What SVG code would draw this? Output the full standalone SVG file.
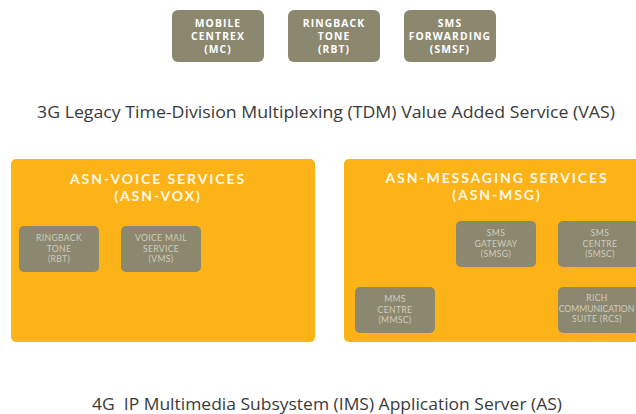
<svg xmlns="http://www.w3.org/2000/svg" width="636" height="414" viewBox="0 0 636 414">
<style>
.top{fill:#8C8870}
.tt{font-family:"Open Sans","DejaVu Sans",sans-serif;font-weight:bold;font-size:10.3px;fill:#FFFFFF;text-anchor:middle;letter-spacing:1.1px}
.grp{fill:#FBB317}
.gt{font-family:Lato,"Open Sans",sans-serif;font-weight:bold;font-size:14px;fill:#FFF8E8;text-anchor:middle;letter-spacing:1.9px}
.in{fill:#8C8870}
.it{font-family:Lato,"Open Sans",sans-serif;font-size:8.6px;fill:#CFCBBB;text-anchor:middle;letter-spacing:0.35px}
.cap{font-family:"Open Sans","Noto Sans",sans-serif;font-size:16.5px;fill:#3A3A3A;text-anchor:middle}
</style>
<rect width="636" height="414" fill="#FFFFFF"/>
<g id="mc"><rect class="top" x="172" y="10" width="92" height="52" rx="6"/>
<text class="tt"><tspan x="218" y="27">MOBILE</tspan><tspan x="218" y="40">CENTREX</tspan><tspan x="218" y="53">(MC)</tspan></text></g>
<g id="rbt-top"><rect class="top" x="288" y="10" width="92" height="52" rx="6"/>
<text class="tt"><tspan x="334" y="27">RINGBACK</tspan><tspan x="334" y="40">TONE</tspan><tspan x="334" y="53">(RBT)</tspan></text></g>
<g id="smsf"><rect class="top" x="404" y="10" width="92" height="52" rx="6"/>
<text class="tt"><tspan x="450" y="27">SMS</tspan><tspan x="450" y="40">FORWARDING</tspan><tspan x="450" y="53">(SMSF)</tspan></text></g>
<text class="cap" x="326" y="118" textLength="578" lengthAdjust="spacingAndGlyphs">3G Legacy Time-Division Multiplexing (TDM) Value Added Service (VAS)</text>
<g id="asn-vox"><rect class="grp" x="11" y="159" width="304" height="183" rx="5"/>
<text class="gt"><tspan x="158" y="184">ASN-VOICE SERVICES</tspan><tspan x="158" y="201">(ASN-VOX)</tspan></text></g>
<g id="rbt"><rect class="in" x="19" y="226" width="80" height="46" rx="5"/>
<text class="it"><tspan x="59" y="241">RINGBACK</tspan><tspan x="59" y="251.5">TONE</tspan><tspan x="59" y="262">(RBT)</tspan></text></g>
<g id="vms"><rect class="in" x="121" y="226" width="80" height="46" rx="5"/>
<text class="it"><tspan x="161" y="241">VOICE MAIL</tspan><tspan x="161" y="251.5">SERVICE</tspan><tspan x="161" y="262">(VMS)</tspan></text></g>
<g id="asn-msg"><rect class="grp" x="344" y="159" width="300" height="183" rx="5"/>
<text class="gt"><tspan x="497" y="183">ASN-MESSAGING SERVICES</tspan><tspan x="497" y="200">(ASN-MSG)</tspan></text></g>
<g id="smsg"><rect class="in" x="456" y="221" width="80" height="46" rx="5"/>
<text class="it"><tspan x="496" y="236">SMS</tspan><tspan x="496" y="246.5">GATEWAY</tspan><tspan x="496" y="257">(SMSG)</tspan></text></g>
<g id="smsc"><rect class="in" x="558" y="221" width="84" height="46" rx="5"/>
<text class="it"><tspan x="600" y="236">SMS</tspan><tspan x="600" y="246.5">CENTRE</tspan><tspan x="600" y="257">(SMSC)</tspan></text></g>
<g id="mmsc"><rect class="in" x="355" y="287" width="80" height="46" rx="5"/>
<text class="it"><tspan x="395" y="302">MMS</tspan><tspan x="395" y="312.5">CENTRE</tspan><tspan x="395" y="323">(MMSC)</tspan></text></g>
<g id="rcs"><rect class="in" x="558" y="287" width="84" height="46" rx="5"/>
<text class="it"><tspan x="597" y="301">RICH</tspan><tspan x="596.5" y="311.5" style="letter-spacing:0">COMMUNICATION</tspan><tspan x="597" y="322">SUITE (RCS)</tspan></text></g>
<g id="connectors"/>
<text class="cap" x="327" y="410" textLength="470" lengthAdjust="spacingAndGlyphs" xml:space="preserve">4G  IP Multimedia Subsystem (IMS) Application Server (AS)</text>
</svg>
